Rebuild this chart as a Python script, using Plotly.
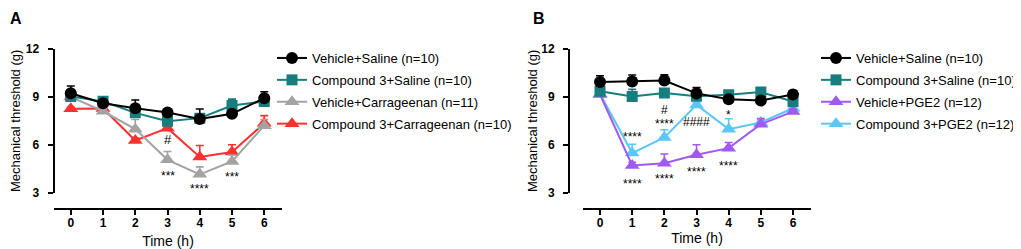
import plotly.graph_objects as go

# ---------------- data ----------------
time_h = [0, 1, 2, 3, 4, 5, 6]

# Panel A
a_names = ["Vehicle+Saline (n=10)", "Compound 3+Saline (n=10)",
           "Vehicle+Carrageenan (n=11)", "Compound 3+Carrageenan (n=10)"]
a_veh_sal = [9.23, 8.60, 8.29, 8.02, 7.62, 7.94, 8.92]
a_veh_sal_err = [0.45, 0.15, 0.52, 0.15, 0.62, 0.15, 0.40]
a_c3_sal = [9.02, 8.72, 8.00, 7.48, 7.67, 8.46, 8.71]
a_c3_sal_err = [0.15, 0.12, 0.15, 0.15, 0.25, 0.40, 0.15]
a_veh_car = [9.00, 8.10, 6.98, 5.06, 4.15, 4.96, 7.20]
a_veh_car_err = [0.10, 0.15, 0.60, 0.52, 0.47, 0.40, 0.38]
a_c3_car = [8.25, 8.27, 6.27, 7.04, 5.24, 5.55, 7.35]
a_c3_car_err = [0.10, 0.10, 0.15, 0.10, 0.72, 0.45, 0.48]

# Panel B
b_names = ["Vehicle+Saline (n=10)", "Compound 3+Saline (n=10)",
           "Vehicle+PGE2 (n=12)", "Compound 3+PGE2 (n=12)"]
b_veh_sal = [9.94, 9.97, 10.02, 9.22, 8.86, 8.77, 9.15]
b_veh_sal_err = [0.38, 0.40, 0.36, 0.36, 0.15, 0.12, 0.25]
b_c3_sal = [9.35, 9.02, 9.25, 9.04, 9.13, 9.30, 8.71]
b_c3_sal_err = [0.15, 0.45, 0.15, 0.15, 0.20, 0.15, 0.15]
b_veh_pge = [9.15, 4.71, 4.85, 5.38, 5.79, 7.29, 8.08]
b_veh_pge_err = [0.10, 0.20, 0.57, 0.62, 0.35, 0.35, 0.15]
b_c3_pge = [9.20, 5.48, 6.46, 8.50, 6.98, 7.40, 8.29]
b_c3_pge_err = [0.10, 0.55, 0.48, 0.15, 0.65, 0.15, 0.15]

y_ticks = [3, 6, 9, 12]

# significance labels: (time index, series index, text, pixel shift)
sig_a = [(3, 2, "#", 20), (3, 2, "***", -16), (4, 2, "****", -15), (5, 2, "***", -16)]
sig_b = [(1, 3, "****", 16), (1, 2, "****", -19), (2, 3, "#", 27), (2, 3, "****", 13),
         (2, 2, "****", -16), (3, 3, "####", -17), (3, 2, "****", -17),
         (4, 3, "*", 14), (4, 2, "****", -18)]

# ---------------- styling ----------------
PAGE_OFF = 8                      # default body margin of the html page
W, H = 1021 - PAGE_OFF, 249 - PAGE_OFF
FONT = "Liberation Sans, Arial, sans-serif"


def fx(px):
    return (px - PAGE_OFF) / W


def fy(py):
    return 1 - (py - PAGE_OFF) / H


colors_a = ["#000000", "#177d7d", "#a3a3a3", "#ff3030"]
colors_b = ["#000000", "#177d7d", "#a05af2", "#5cc6f7"]
symbols = ["circle", "square", "triangle-up", "triangle-up"]
sizes = [12, 11, 13, 13]

fig = go.Figure()


def add_panel(names, values, errs, colors, xa, ya, legend, draw_order):
    for i in draw_order:
        fig.add_trace(go.Scatter(
            x=time_h, y=values[i], name=names[i], mode="lines+markers",
            xaxis=xa, yaxis=ya, legend=legend, legendgroup=legend + str(i),
            legendrank=i + 1,
            line=dict(color=colors[i], width=2),
            marker=dict(symbol=symbols[i], size=sizes[i], color=colors[i]),
            error_y=dict(type="data", symmetric=False, array=errs[i],
                         arrayminus=[0] * len(errs[i]), color=colors[i],
                         thickness=1.6, width=4),
        ))


add_panel(a_names, [a_veh_sal, a_c3_sal, a_veh_car, a_c3_car],
          [a_veh_sal_err, a_c3_sal_err, a_veh_car_err, a_c3_car_err],
          colors_a, "x", "y", "legend", [3, 2, 1, 0])
add_panel(b_names, [b_veh_sal, b_c3_sal, b_veh_pge, b_c3_pge],
          [b_veh_sal_err, b_c3_sal_err, b_veh_pge_err, b_c3_pge_err],
          colors_b, "x2", "y2", "legend2", [3, 2, 1, 0])

a_series = [a_veh_sal, a_c3_sal, a_veh_car, a_c3_car]
b_series = [b_veh_sal, b_c3_sal, b_veh_pge, b_c3_pge]
annotations = []
for (t, s, txt, sh) in sig_a:
    annotations.append(dict(x=time_h[t], y=a_series[s][t], xref="x", yref="y",
                            text=txt, showarrow=False, yshift=sh,
                            font=dict(family=FONT, size=12 if "*" in txt else 13,
                                      color="#000")))
for (t, s, txt, sh) in sig_b:
    annotations.append(dict(x=time_h[t], y=b_series[s][t], xref="x2", yref="y2",
                            text=txt, showarrow=False, yshift=sh,
                            font=dict(family=FONT, size=12, color="#000")))
annotations.append(dict(x=0, y=1, xref="paper", yref="paper",
                        text="<b>A</b>", showarrow=False, xanchor="left",
                        yanchor="top", font=dict(family=FONT, size=16, color="#000")))
annotations.append(dict(x=fx(539), y=1, xref="paper", yref="paper",
                        text="<b>B</b>", showarrow=False, xanchor="center",
                        yanchor="top", font=dict(family=FONT, size=16, color="#000")))

ydom = [fy(192.7), fy(49)]
xpos = fy(209)

common_x = dict(range=[-0.52, 6.55], tickvals=time_h, ticktext=[str(t) for t in time_h],
                showline=True, linecolor="#000", linewidth=2, ticks="outside",
                ticklen=5, tickwidth=1.6, tickcolor="#000", showgrid=False,
                zeroline=False, anchor="free", position=xpos, automargin=False,
                ticklabelstandoff=-2,
                tickfont=dict(family=FONT, size=12, color="#000", weight="bold"),
                title=dict(text="Time (h)", font=dict(family=FONT, size=14, color="#000")))
common_y = dict(range=[3, 12], tickvals=y_ticks, domain=ydom,
                showline=True, linecolor="#000", linewidth=2, ticks="outside",
                ticklen=5, tickwidth=1.6, tickcolor="#000", showgrid=False,
                zeroline=False, anchor="free", ticklabelstandoff=6, automargin=False,
                tickfont=dict(family=FONT, size=12, color="#000", weight="bold"),
                title=dict(text="Mechanical threshold (g)",
                           font=dict(family=FONT, size=13, color="#000")))

fig.update_layout(
    width=W, height=H, margin=dict(l=0, r=0, t=0, b=0, autoexpand=False),
    paper_bgcolor="white", plot_bgcolor="white", showlegend=True,
    xaxis=dict(common_x, domain=[fx(54), fx(282)]),
    xaxis2=dict(common_x, domain=[fx(583.3), fx(810.7)]),
    yaxis=dict(common_y, position=fx(53.5)),
    yaxis2=dict(common_y, position=fx(569)),
    legend=dict(x=fx(272), y=fy(43), xanchor="left", yanchor="top",
                traceorder="grouped", tracegroupgap=2,
                font=dict(family=FONT, size=13, color="#000"),
                bgcolor="rgba(0,0,0,0)"),
    legend2=dict(x=fx(816), y=fy(43), xanchor="left", yanchor="top",
                 traceorder="grouped", tracegroupgap=2,
                 font=dict(family=FONT, size=13, color="#000"),
                 bgcolor="rgba(0,0,0,0)"),
    annotations=annotations,
)
fig.layout.xaxis.title.standoff = 7
fig.layout.xaxis2.title.standoff = 0
fig.layout.yaxis.title.standoff = 7
fig.layout.yaxis2.title.standoff = 0

fig.write_html("out.html")
